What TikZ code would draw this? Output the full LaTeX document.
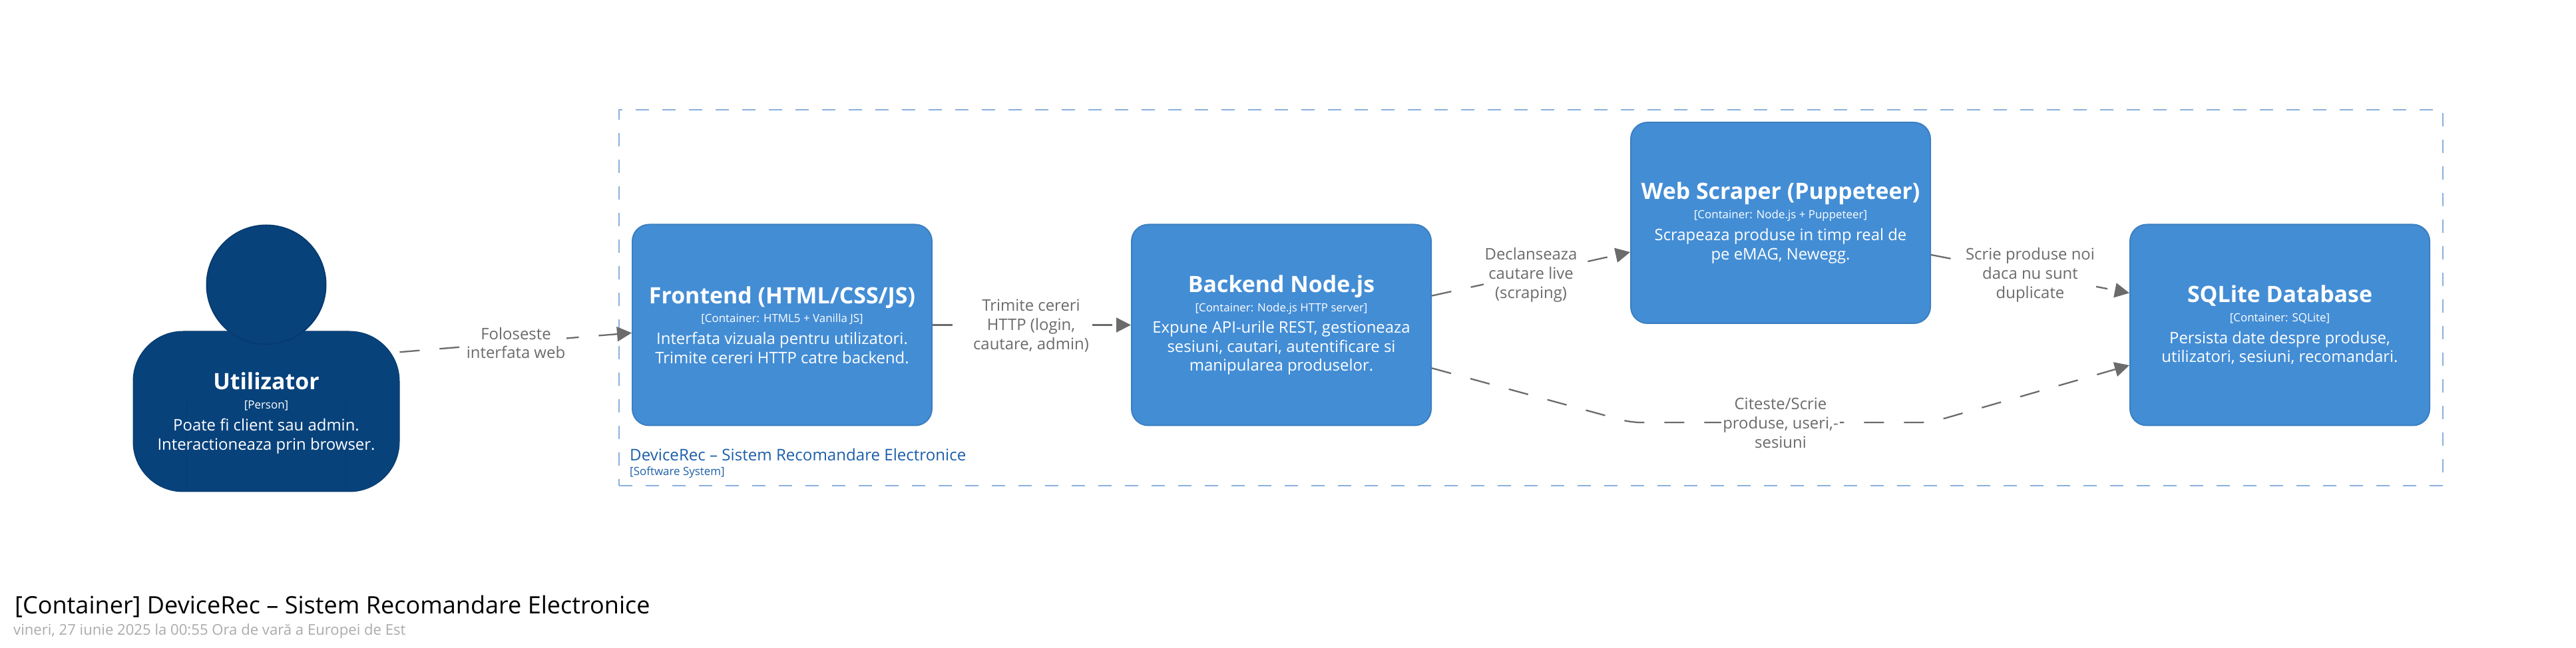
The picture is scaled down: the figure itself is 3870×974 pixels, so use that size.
\documentclass[tikz,border=0pt]{standalone}
\usepackage{fontspec}
\setmainfont{Open Sans}
\usepackage{tikz}
\usetikzlibrary{arrows.meta,%
                shapes,positioning}
\definecolor{personfill}{HTML}{08427B}
\definecolor{personline}{HTML}{073B6F}
\definecolor{boxfill}{HTML}{438DD5}
\definecolor{boxline}{HTML}{3C7FC0}
\definecolor{flowgrey}{HTML}{6B6B6B}
\definecolor{limitline}{HTML}{8AB0DC}
\definecolor{limittext}{HTML}{1C5EA8}
\definecolor{dategrey}{HTML}{AAAAAA}
\tikzstyle{container}=[rectangle,draw=boxline,fill=boxfill,line width=2bp,rounded corners=25bp,minimum width=450bp,minimum height=302bp,text=white,text width=440bp,align=flush center,inner sep=0pt]
\tikzstyle{personbody}=[rectangle,draw=personline,fill=personfill,line width=1bp,rounded corners=75bp,minimum width=400bp,minimum height=241bp]
\tikzstyle{personhead}=[circle,draw=personline,fill=personfill,line width=2bp,minimum size=179bp,inner sep=0pt]
\tikzstyle{persontext}=[text=white,text width=390bp,align=flush center,inner sep=0pt]
\tikzstyle{flow}=[->,draw=flowgrey,line width=2.3bp,dash pattern=on 30bp off 30bp]
\tikzstyle{flowtext}=[fill=white,text=flowgrey,align=center,inner sep=2bp,font=\fontsize{24}{29}\selectfont]
\tikzstyle{limit}=[rectangle,draw=limitline,line width=2.5bp,dash pattern=on 20bp off 20bp,minimum width=2740bp,minimum height=565bp]
\newcommand{\boxtext}[3]{{\fontsize{34}{36}\selectfont\bfseries #1\par}{\fontsize{17}{29}\selectfont #2\par}\vspace{4.5bp}{\fontsize{24}{28.5}\selectfont #3\par}}

\begin{document}
\begin{tikzpicture}[>={Triangle[length=22bp,width=22bp]},line join=bevel]
	  \useasboundingbox (0bp,0bp) rectangle (3870bp,974bp);
	  \node (boundary) at (2300bp,526.5bp) [limit] {};
	  \node (limitname) at (946bp,291bp) [anchor=west,inner sep=0pt,text=limittext,font=\fontsize{24.2}{28}\selectfont] {DeviceRec – Sistem Recomandare Electronice};
	  \node (limittag) at (946bp,264bp) [anchor=west,inner sep=0pt,text=limittext,font=\fontsize{17}{18}\selectfont] {[Software System]};
	  % person
	  \node (user) at (400bp,355.5bp) [personbody] {};
	  \draw [personline,line width=1bp] (280bp,369bp) -- (280bp,235bp);
	  \draw [personline,line width=1bp] (519bp,369bp) -- (519bp,235bp);
	  \node (head) at (400bp,546bp) [personhead] {};
	  \node (usertext) at (400bp,353bp) [persontext] {\boxtext{Utilizator}{[Person]}{Poate fi client sau admin.\\Interactioneaza prin browser.}};
	  % containers
	  \node (frontend) at (1175bp,485.5bp) [container] {\boxtext{Frontend (HTML/CSS/JS)}{[Container: HTML5 + Vanilla JS]}{Interfata vizuala pentru utilizatori.\\Trimite cereri HTTP catre backend.}};
	  \node (backend) at (1925bp,485.5bp) [container] {\boxtext{Backend Node.js}{[Container: Node.js HTTP server]}{Expune API-urile REST, gestioneaza\\sesiuni, cautari, autentificare si\\manipularea produselor.}};
	  \node (scraper) at (2675bp,639bp) [container] {\boxtext{Web Scraper (Puppeteer)}{[Container: Node.js + Puppeteer]}{Scrapeaza produse in timp real de\\pe eMAG, Newegg.}};
	  \node (sqlite) at (3425bp,485.5bp) [container] {\boxtext{SQLite Database}{[Container: SQLite]}{Persista date despre produse,\\utilizatori, sesiuni, recomandari.}};
	  % connectors
	  \coordinate (bendleft) at (2450bp,339bp);
	  \coordinate (bendright) at (2900bp,339bp);
	  \draw [flow] (user.24.8) -- (frontend.183.7);
	  \draw [flow] (frontend.east) -- (backend.west);
	  \draw [flow] (backend.11.5) -- (scraper.191.8);
	  \draw [flow] (scraper.348.7) -- (sqlite.168.2);
	  \draw [flow,rounded corners=15bp] (backend.344.4) -- (bendleft) -- (bendright) -- (sqlite.195.2);
	  \node (foloseste) at (775bp,458.5bp) [flowtext] {Foloseste\\interfata web};
	  \node (trimite) at (1549bp,484bp) [flowtext] {Trimite cereri\\HTTP (login,\\cautare, admin)};
	  \node (declanseaza) at (2300bp,561bp) [flowtext] {Declanseaza\\cautare live\\(scraping)};
	  \node (scrie) at (3050bp,561bp) [flowtext] {Scrie produse noi\\daca nu sunt\\duplicate};
	  \node (citeste) at (2675bp,338bp) [flowtext] {Citeste/Scrie\\produse, useri,-\\sesiuni};
	  % footer
	  \node (diagtitle) at (22bp,62bp) [anchor=west,inner sep=0pt,font=\fontsize{36.2}{40}\selectfont] {[Container] DeviceRec – Sistem Recomandare Electronice};
	  \node (diagdate) at (20bp,25bp) [anchor=west,inner sep=0pt,text=dategrey,font=\fontsize{22.2}{26}\selectfont] {vineri, 27 iunie 2025 la 00:55 Ora de vară a Europei de Est};
    %
\end{tikzpicture}
\end{document}
